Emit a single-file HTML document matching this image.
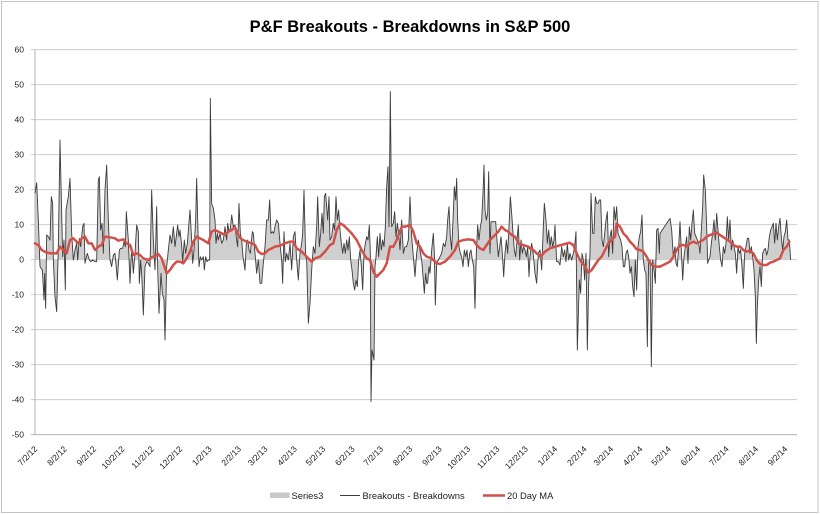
<!DOCTYPE html>
<html><head><meta charset="utf-8"><style>
html,body{margin:0;padding:0;background:#fff;}
svg{display:block;}
text{font-family:"Liberation Sans",Arial,sans-serif;}
</style></head><body>
<svg width="820" height="514" viewBox="0 0 820 514" xmlns="http://www.w3.org/2000/svg">
<rect x="0" y="0" width="820" height="514" fill="#fff"/>
<rect x="1.5" y="1.5" width="816.5" height="511" fill="none" stroke="#c3c3c3" stroke-width="1"/>
<text x="410" y="32" text-anchor="middle" font-size="16.5" font-weight="bold" fill="#000">P&amp;F Breakouts - Breakdowns in S&amp;P 500</text>
<g stroke="#cdcdcd" stroke-width="1">
<line x1="31" y1="49.67" x2="797" y2="49.67"/>
<line x1="31" y1="84.67" x2="797" y2="84.67"/>
<line x1="31" y1="119.67" x2="797" y2="119.67"/>
<line x1="31" y1="154.67" x2="797" y2="154.67"/>
<line x1="31" y1="189.67" x2="797" y2="189.67"/>
<line x1="31" y1="224.67" x2="797" y2="224.67"/>
<line x1="31" y1="259.67" x2="797" y2="259.67"/>
<line x1="31" y1="294.67" x2="797" y2="294.67"/>
<line x1="31" y1="329.67" x2="797" y2="329.67"/>
<line x1="31" y1="364.67" x2="797" y2="364.67"/>
<line x1="31" y1="399.67" x2="797" y2="399.67"/>
</g>
<g font-size="8.5" fill="#222" text-anchor="end">
<text x="24" y="52.7">60</text>
<text x="24" y="87.7">50</text>
<text x="24" y="122.7">40</text>
<text x="24" y="157.7">30</text>
<text x="24" y="192.7">20</text>
<text x="24" y="227.7">10</text>
<text x="24" y="262.7">0</text>
<text x="24" y="297.7">-10</text>
<text x="24" y="332.7">-20</text>
<text x="24" y="367.7">-30</text>
<text x="24" y="402.7">-40</text>
<text x="24" y="437.7">-50</text>
</g>

<!-- Area (Series3) -->
<g fill="#cfcfcf" stroke="none">
<polygon transform="translate(30,80) scale(0.333333)" points="15,539 15,340 20,308 25,420 30,560 37,570 42,660 44,580 47,685 50,465 55,470 60,480 64,350 68,370 70,540 75,650 80,695 85,500 90,180 95,400 98,530 102,480 106,630 108,390 115,350 120,295 125,460 130,540 135,510 140,490 143,540 148,475 152,500 158,440 162,430 165,550 168,535 172,520 178,540 182,545 188,540 195,545 200,545 205,300 208,290 212,450 216,430 220,520 225,330 230,255 235,420 240,540 245,560 250,525 255,520 262,600 268,510 272,505 278,505 282,485 286,500 289,395 295,480 300,610 305,500 310,580 315,520 320,435 325,455 328,610 332,540 336,600 340,705 345,560 350,545 355,550 360,560 365,330 370,480 375,570 375,539"/>
<polygon transform="translate(155,80) scale(0.333333)" points="0,539 0,570 5,380 8,560 12,700 18,580 22,640 27,660 30,780 35,560 40,510 45,465 50,490 55,440 60,500 65,460 68,435 72,470 75,450 80,495 83,545 88,480 92,520 97,490 105,390 110,480 113,550 117,510 122,420 125,295 128,420 132,560 136,530 140,540 145,530 148,570 152,530 156,545 160,540 164,540 166,55 170,370 175,385 180,420 183,490 187,460 190,480 195,460 200,490 205,480 210,440 215,480 218,430 222,455 226,445 230,405 235,440 240,435 245,480 248,500 252,370 256,460 260,480 264,530 270,570 274,490 278,480 282,510 286,520 292,455 295,460 300,520 305,580 310,540 315,610 320,610 325,550 330,500 335,420 340,420 344,360 348,460 352,455 356,460 360,440 365,420 370,430 375,490 375,539"/>
<polygon transform="translate(280,80) scale(0.333333)" points="0,539 0,490 5,540 8,610 12,455 16,545 20,520 25,540 30,490 35,570 40,470 45,455 50,540 55,600 60,520 65,490 68,460 72,330 77,530 80,540 85,730 90,670 95,570 100,500 105,520 110,440 113,350 118,500 122,460 126,400 130,460 133,350 137,340 140,380 143,420 147,350 150,480 155,470 160,430 164,450 168,350 172,420 176,390 180,450 184,490 188,520 192,490 196,520 200,480 204,510 208,470 212,540 216,570 220,610 224,630 228,600 232,620 236,540 240,510 244,560 248,630 252,520 256,490 260,470 264,480 268,435 271,520 273,965 276,810 282,840 285,560 288,530 292,470 296,530 300,460 304,510 308,480 312,500 316,440 320,320 324,260 327,440 331,35 335,440 340,430 344,395 348,470 352,430 356,460 360,510 365,420 370,520 375,500 375,539"/>
<polygon transform="translate(405,80) scale(0.333333)" points="0,539 0,500 5,500 10,480 15,350 20,470 25,530 30,590 35,520 40,480 45,510 50,540 55,600 58,640 62,580 65,610 68,610 72,560 75,580 80,510 85,460 88,520 91,675 95,550 100,540 105,530 110,520 115,490 120,500 125,470 128,420 132,380 136,470 140,510 144,420 148,320 152,360 155,295 158,420 162,500 166,520 170,530 174,560 178,510 182,530 186,510 190,560 194,520 198,510 202,540 206,560 210,685 214,520 218,435 222,480 226,440 230,420 234,340 237,255 240,390 244,420 248,400 251,275 255,520 258,425 262,425 268,425 272,425 276,480 280,530 284,500 288,470 292,520 296,590 300,520 304,480 308,520 312,440 316,350 320,400 324,460 328,510 332,530 336,480 340,435 344,540 348,480 352,520 356,500 360,510 364,530 368,500 372,590 375,530 375,539"/>
<polygon transform="translate(530,80) scale(0.333333)" points="0,539 0,530 5,490 10,525 15,580 20,610 25,520 30,510 35,570 40,440 43,370 48,420 52,490 56,450 60,500 64,470 68,500 72,480 75,435 80,545 85,545 90,555 95,500 100,530 104,510 108,545 112,490 116,540 120,520 125,540 130,520 134,500 138,455 142,810 148,600 152,640 156,520 160,540 164,600 168,520 172,810 176,610 180,520 183,340 188,460 192,460 196,350 200,370 204,370 208,360 212,360 216,480 220,500 224,460 228,420 232,395 236,530 240,470 244,450 248,520 252,380 256,420 260,380 264,460 268,470 272,480 276,500 280,560 284,560 288,520 292,510 296,530 300,580 304,560 308,620 312,650 316,540 320,630 324,500 328,470 332,455 336,405 340,540 344,570 348,580 352,800 356,540 360,540 364,860 368,540 372,570 376,610 380,450 384,445 388,520 390,460 390,539"/>
<polygon transform="translate(670,80) scale(0.333333)" points="-30,539 -30,460 0,415 5,450 10,530 15,500 18,550 22,560 26,500 30,425 34,510 38,600 42,530 46,500 50,470 54,550 58,440 62,480 66,430 70,390 74,460 78,470 82,480 86,490 90,520 94,450 98,380 101,285 106,330 110,440 113,550 116,540 120,530 124,490 128,460 132,420 136,480 140,400 144,450 148,500 152,540 156,560 160,500 164,520 168,490 172,410 176,480 180,420 184,510 188,480 192,500 196,520 200,580 204,500 208,520 212,510 216,560 220,625 224,520 228,500 232,475 236,475 240,520 244,500 248,530 252,570 256,650 259,790 262,680 266,600 270,560 274,620 278,520 282,510 286,505 290,525 294,510 298,470 302,450 306,440 310,430 314,490 318,430 322,480 326,440 330,415 334,470 338,510 342,470 346,455 350,420 354,480 358,480 362,540 362,539"/>
</g>

<!-- axes -->
<line x1="35" y1="49.67" x2="35" y2="434.67" stroke="#b3b3b3" stroke-width="1"/>
<line x1="31" y1="434.67" x2="797" y2="434.67" stroke="#b3b3b3" stroke-width="1"/>

<!-- Breakouts - Breakdowns line -->
<g fill="none" stroke="#3c3c3c" stroke-width="0.9" stroke-linejoin="round">
<polyline vector-effect="non-scaling-stroke" transform="translate(30,80) scale(0.333333)" points="15,340 20,308 25,420 30,560 37,570 42,660 44,580 47,685 50,465 55,470 60,480 64,350 68,370 70,540 75,650 80,695 85,500 90,180 95,400 98,530 102,480 106,630 108,390 115,350 120,295 125,460 130,540 135,510 140,490 143,540 148,475 152,500 158,440 162,430 165,550 168,535 172,520 178,540 182,545 188,540 195,545 200,545 205,300 208,290 212,450 216,430 220,520 225,330 230,255 235,420 240,540 245,560 250,525 255,520 262,600 268,510 272,505 278,505 282,485 286,500 289,395 295,480 300,610 305,500 310,580 315,520 320,435 325,455 328,610 332,540 336,600 340,705 345,560 350,545 355,550 360,560 365,330 370,480 375,570"/>
<polyline vector-effect="non-scaling-stroke" transform="translate(155,80) scale(0.333333)" points="0,570 5,380 8,560 12,700 18,580 22,640 27,660 30,780 35,560 40,510 45,465 50,490 55,440 60,500 65,460 68,435 72,470 75,450 80,495 83,545 88,480 92,520 97,490 105,390 110,480 113,550 117,510 122,420 125,295 128,420 132,560 136,530 140,540 145,530 148,570 152,530 156,545 160,540 164,540 166,55 170,370 175,385 180,420 183,490 187,460 190,480 195,460 200,490 205,480 210,440 215,480 218,430 222,455 226,445 230,405 235,440 240,435 245,480 248,500 252,370 256,460 260,480 264,530 270,570 274,490 278,480 282,510 286,520 292,455 295,460 300,520 305,580 310,540 315,610 320,610 325,550 330,500 335,420 340,420 344,360 348,460 352,455 356,460 360,440 365,420 370,430 375,490"/>
<polyline vector-effect="non-scaling-stroke" transform="translate(280,80) scale(0.333333)" points="0,490 5,540 8,610 12,455 16,545 20,520 25,540 30,490 35,570 40,470 45,455 50,540 55,600 60,520 65,490 68,460 72,330 77,530 80,540 85,730 90,670 95,570 100,500 105,520 110,440 113,350 118,500 122,460 126,400 130,460 133,350 137,340 140,380 143,420 147,350 150,480 155,470 160,430 164,450 168,350 172,420 176,390 180,450 184,490 188,520 192,490 196,520 200,480 204,510 208,470 212,540 216,570 220,610 224,630 228,600 232,620 236,540 240,510 244,560 248,630 252,520 256,490 260,470 264,480 268,435 271,520 273,965 276,810 282,840 285,560 288,530 292,470 296,530 300,460 304,510 308,480 312,500 316,440 320,320 324,260 327,440 331,35 335,440 340,430 344,395 348,470 352,430 356,460 360,510 365,420 370,520 375,500"/>
<polyline vector-effect="non-scaling-stroke" transform="translate(405,80) scale(0.333333)" points="0,500 5,500 10,480 15,350 20,470 25,530 30,590 35,520 40,480 45,510 50,540 55,600 58,640 62,580 65,610 68,610 72,560 75,580 80,510 85,460 88,520 91,675 95,550 100,540 105,530 110,520 115,490 120,500 125,470 128,420 132,380 136,470 140,510 144,420 148,320 152,360 155,295 158,420 162,500 166,520 170,530 174,560 178,510 182,530 186,510 190,560 194,520 198,510 202,540 206,560 210,685 214,520 218,435 222,480 226,440 230,420 234,340 237,255 240,390 244,420 248,400 251,275 255,520 258,425 262,425 268,425 272,425 276,480 280,530 284,500 288,470 292,520 296,590 300,520 304,480 308,520 312,440 316,350 320,400 324,460 328,510 332,530 336,480 340,435 344,540 348,480 352,520 356,500 360,510 364,530 368,500 372,590 375,530"/>
<polyline vector-effect="non-scaling-stroke" transform="translate(530,80) scale(0.333333)" points="0,530 5,490 10,525 15,580 20,610 25,520 30,510 35,570 40,440 43,370 48,420 52,490 56,450 60,500 64,470 68,500 72,480 75,435 80,545 85,545 90,555 95,500 100,530 104,510 108,545 112,490 116,540 120,520 125,540 130,520 134,500 138,455 142,810 148,600 152,640 156,520 160,540 164,600 168,520 172,810 176,610 180,520 183,340 188,460 192,460 196,350 200,370 204,370 208,360 212,360 216,480 220,500 224,460 228,420 232,395 236,530 240,470 244,450 248,520 252,380 256,420 260,380 264,460 268,470 272,480 276,500 280,560 284,560 288,520 292,510 296,530 300,580 304,560 308,620 312,650 316,540 320,630 324,500 328,470 332,455 336,405 340,540 344,570 348,580 352,800 356,540 360,540 364,860 368,540 372,570 376,610 380,450 384,445 388,520 390,460"/>
<polyline vector-effect="non-scaling-stroke" transform="translate(670,80) scale(0.333333)" points="-30,460 0,415 5,450 10,530 15,500 18,550 22,560 26,500 30,425 34,510 38,600 42,530 46,500 50,470 54,550 58,440 62,480 66,430 70,390 74,460 78,470 82,480 86,490 90,520 94,450 98,380 101,285 106,330 110,440 113,550 116,540 120,530 124,490 128,460 132,420 136,480 140,400 144,450 148,500 152,540 156,560 160,500 164,520 168,490 172,410 176,480 180,420 184,510 188,480 192,500 196,520 200,580 204,500 208,520 212,510 216,560 220,625 224,520 228,500 232,475 236,475 240,520 244,500 248,530 252,570 256,650 259,790 262,680 266,600 270,560 274,620 278,520 282,510 286,505 290,525 294,510 298,470 302,450 306,440 310,430 314,490 318,430 322,480 326,440 330,415 334,470 338,510 342,470 346,455 350,420 354,480 358,480 362,540"/>
</g>

<!-- 20 Day MA -->
<g fill="none" stroke="#d2504a" stroke-width="2.5" stroke-linejoin="round" stroke-linecap="round">
<polyline vector-effect="non-scaling-stroke" transform="translate(30,80) scale(0.333333)" points="15,490 25,495 35,510 50,518 65,520 80,520 90,500 100,510 110,520 120,480 130,475 145,490 155,475 165,470 175,490 185,490 195,510 205,500 215,495 225,470 240,472 255,475 265,482 280,478 290,490 300,495 310,525 320,520 330,525 340,535 355,540 365,532 375,528"/>
<polyline vector-effect="non-scaling-stroke" transform="translate(155,80) scale(0.333333)" points="0,528 10,522 20,535 35,580 45,570 55,555 65,545 75,545 85,550 95,535 105,515 115,485 125,470 135,475 145,480 160,490 170,455 180,450 190,455 200,460 210,465 220,455 230,450 240,442 250,465 260,478 275,485 290,490 300,495 310,515 320,522 330,520 340,510 350,505 360,500 370,498 375,497"/>
<polyline vector-effect="non-scaling-stroke" transform="translate(280,80) scale(0.333333)" points="0,497 15,490 30,485 40,485 50,505 65,515 80,530 95,545 105,535 120,530 135,515 150,495 160,490 170,450 180,430 190,435 205,450 215,460 230,480 240,500 250,520 260,535 270,540 280,575 290,590 300,580 310,570 320,550 330,500 340,500 350,480 365,440 375,440"/>
<polyline vector-effect="non-scaling-stroke" transform="translate(405,80) scale(0.333333)" points="0,440 15,435 25,455 35,490 45,500 55,520 65,530 80,535 95,550 105,552 120,545 135,530 150,510 160,485 175,480 190,478 205,480 215,495 225,505 235,510 245,495 255,480 265,470 280,455 290,440 300,450 310,455 320,465 330,470 340,490 355,495 370,500 375,505"/>
<polyline vector-effect="non-scaling-stroke" transform="translate(530,80) scale(0.333333)" points="0,505 10,510 20,520 32,530 45,515 60,505 75,500 90,496 105,492 118,488 130,495 140,520 150,540 165,560 175,578 185,570 195,555 205,540 215,530 225,510 235,490 245,480 255,470 260,430 270,440 280,460 290,470 300,485 310,495 320,508 330,510 340,515 350,530 360,550 370,558 380,560 390,560"/>
<polyline vector-effect="non-scaling-stroke" transform="translate(670,80) scale(0.333333)" points="-30,560 0,545 10,530 20,510 30,495 40,495 50,500 60,490 70,485 80,490 90,485 100,480 110,470 120,465 130,462 140,458 150,465 160,472 170,478 180,485 190,495 200,500 210,500 220,510 230,515 240,512 250,520 260,540 270,552 280,555 290,555 300,548 310,545 320,540 330,535 340,510 350,500 358,485"/>
</g>

<!-- X axis labels -->
<g font-size="8.5" fill="#222" text-anchor="end">
<text transform="translate(38,449.5) rotate(-45)">7/2/12</text>
<text transform="translate(67.4,449.5) rotate(-45)">8/2/12</text>
<text transform="translate(96.7,449.5) rotate(-45)">9/2/12</text>
<text transform="translate(125.1,449.5) rotate(-45)">10/2/12</text>
<text transform="translate(154.5,449.5) rotate(-45)">11/2/12</text>
<text transform="translate(182.9,449.5) rotate(-45)">12/2/12</text>
<text transform="translate(212.2,449.5) rotate(-45)">1/2/13</text>
<text transform="translate(241.6,449.5) rotate(-45)">2/2/13</text>
<text transform="translate(268.1,449.5) rotate(-45)">3/2/13</text>
<text transform="translate(297.5,449.5) rotate(-45)">4/2/13</text>
<text transform="translate(325.9,449.5) rotate(-45)">5/2/13</text>
<text transform="translate(355.2,449.5) rotate(-45)">6/2/13</text>
<text transform="translate(383.7,449.5) rotate(-45)">7/2/13</text>
<text transform="translate(413,449.5) rotate(-45)">8/2/13</text>
<text transform="translate(442.4,449.5) rotate(-45)">9/2/13</text>
<text transform="translate(470.8,449.5) rotate(-45)">10/2/13</text>
<text transform="translate(500.1,449.5) rotate(-45)">11/2/13</text>
<text transform="translate(528.5,449.5) rotate(-45)">12/2/13</text>
<text transform="translate(557.9,449.5) rotate(-45)">1/2/14</text>
<text transform="translate(587.3,449.5) rotate(-45)">2/2/14</text>
<text transform="translate(613.8,449.5) rotate(-45)">3/2/14</text>
<text transform="translate(643.1,449.5) rotate(-45)">4/2/14</text>
<text transform="translate(671.5,449.5) rotate(-45)">5/2/14</text>
<text transform="translate(700.9,449.5) rotate(-45)">6/2/14</text>
<text transform="translate(729.3,449.5) rotate(-45)">7/2/14</text>
<text transform="translate(758.7,449.5) rotate(-45)">8/2/14</text>
<text transform="translate(788,449.5) rotate(-45)">9/2/14</text>
</g>

<!-- Legend -->
<rect x="270" y="492.5" width="19.5" height="5.5" fill="#c8c8c8"/>
<text x="291.5" y="499" font-size="9.4" fill="#222">Series3</text>
<line x1="340" y1="495.5" x2="360" y2="495.5" stroke="#3c3c3c" stroke-width="1"/>
<text x="362.5" y="499" font-size="9.4" fill="#222">Breakouts - Breakdowns</text>
<line x1="483" y1="495.5" x2="505" y2="495.5" stroke="#d2504a" stroke-width="2.5"/>
<text x="507" y="499" font-size="9.4" fill="#222">20 Day MA</text>
</svg>
</body></html>
